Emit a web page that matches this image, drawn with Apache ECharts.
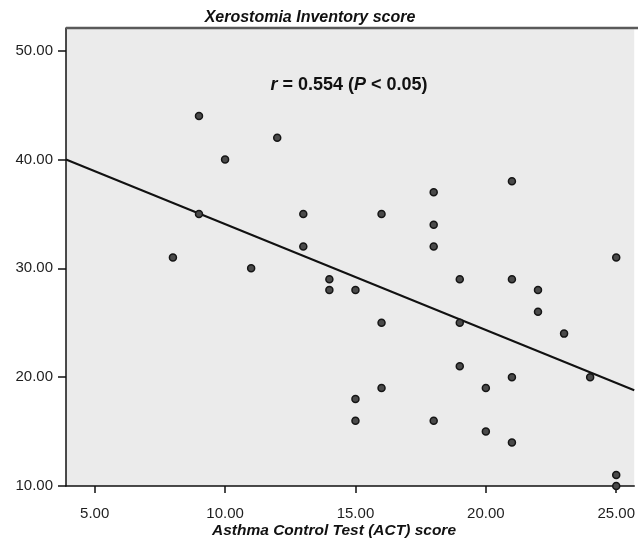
<!DOCTYPE html>
<html>
<head>
<meta charset="utf-8">
<script src="https://cdn.jsdelivr.net/npm/echarts@6/dist/echarts.min.js"></script>
<style>
  html, body { margin: 0; padding: 0; background: #ffffff; }
  #chart { width: 638px; height: 541px; }
</style>
</head>
<body>
<div id="chart"></div>
<script>
// ACT score for each patient
var actScores = [8, 9, 9, 10, 11, 12, 13, 13, 14, 14, 15, 15, 15, 16, 16, 16, 18, 18, 18, 18,
                 19, 19, 19, 20, 20, 21, 21, 21, 21, 22, 22, 23, 24, 25, 25, 25];
// Xerostomia Inventory score for the same patients
var xiScores  = [31, 44, 35, 40, 30, 42, 35, 32, 29, 28, 28, 18, 16, 35, 25, 19, 37, 34, 32, 16,
                 29, 25, 21, 19, 15, 38, 29, 20, 14, 28, 26, 24, 20, 31, 11, 10];
var xTicks = [5, 10, 15, 20, 25];
var yTicks = [10, 20, 30, 40, 50];
var xRange = [3.9, 25.69];
var yRange = [10, 52.08];
// fitted regression of XI on ACT
var fitIntercept = 43.79;
var fitSlope = -0.973;
var corrLabel = '0.554';

var fitPoints = xRange.map(function (x) { return [x, fitIntercept + fitSlope * x]; });
var points = actScores.map(function (x, i) { return [x, xiScores[i]]; });

var font = '"Liberation Sans", Arial, sans-serif';
var chart = echarts.init(document.getElementById('chart'), null, { renderer: 'canvas' });
chart.setOption({
  animation: false,
  backgroundColor: '#ffffff',
  grid: {
    left: 66, top: 28, right: 0, bottom: 55,
    show: true, backgroundColor: '#ebebeb', borderWidth: 0
  },
  xAxis: {
    type: 'value', min: xRange[0], max: xRange[1],
    axisLine: { show: true, onZero: false, lineStyle: { color: '#111', width: 1.5 } },
    axisTick: { show: true, length: 7, customValues: xTicks, lineStyle: { color: '#111', width: 1.5 } },
    axisLabel: {
      customValues: xTicks, margin: 20, color: '#1e1e1e', fontSize: 15, fontFamily: font,
      formatter: function (v) { return v.toFixed(2); }
    },
    splitLine: { show: false }
  },
  yAxis: {
    type: 'value', min: yRange[0], max: yRange[1],
    axisLine: { show: true, onZero: false, lineStyle: { color: '#111', width: 1.5 } },
    axisTick: { show: true, length: 8, customValues: yTicks, lineStyle: { color: '#111', width: 1.5 } },
    axisLabel: {
      customValues: yTicks, margin: 13, color: '#1e1e1e', fontSize: 15, fontFamily: font,
      formatter: function (v) { return v.toFixed(2); }
    },
    splitLine: { show: false }
  },
  graphic: [
    { type: 'line', shape: { x1: 66, y1: 28, x2: 638, y2: 28 }, style: { stroke: '#5a5a5a', lineWidth: 2.5 }, z: 10 },
    { type: 'text', x: 310, y: 18, style: { text: 'Xerostomia Inventory score', font: 'italic bold 16px ' + font, fill: '#111', textAlign: 'center', textVerticalAlign: 'middle' }, z: 11 },
    { type: 'text', x: 349, y: 85, style: { rich: {
        i: { font: 'italic bold 18px ' + font, fill: '#111' },
        n: { font: 'bold 18px ' + font, fill: '#111' }
      }, text: '{i|r}{n| = ' + corrLabel + ' (}{i|P}{n| < 0.05)}', textAlign: 'center', textVerticalAlign: 'middle' }, z: 11 },
    { type: 'text', x: 334, y: 531, style: { text: 'Asthma Control Test (ACT) score', font: 'italic bold 15.5px ' + font, fill: '#111', textAlign: 'center', textVerticalAlign: 'middle' }, z: 11 }
  ],
  series: [
    {
      type: 'line', data: fitPoints, symbol: 'none', silent: true,
      lineStyle: { color: '#111', width: 2 }, z: 3
    },
    {
      type: 'scatter', data: points, symbol: 'circle', symbolSize: 7,
      itemStyle: { color: '#4a4a4a', borderColor: '#151515', borderWidth: 1.5, opacity: 1 }, z: 4
    }
  ]
});
</script>
</body>
</html>
